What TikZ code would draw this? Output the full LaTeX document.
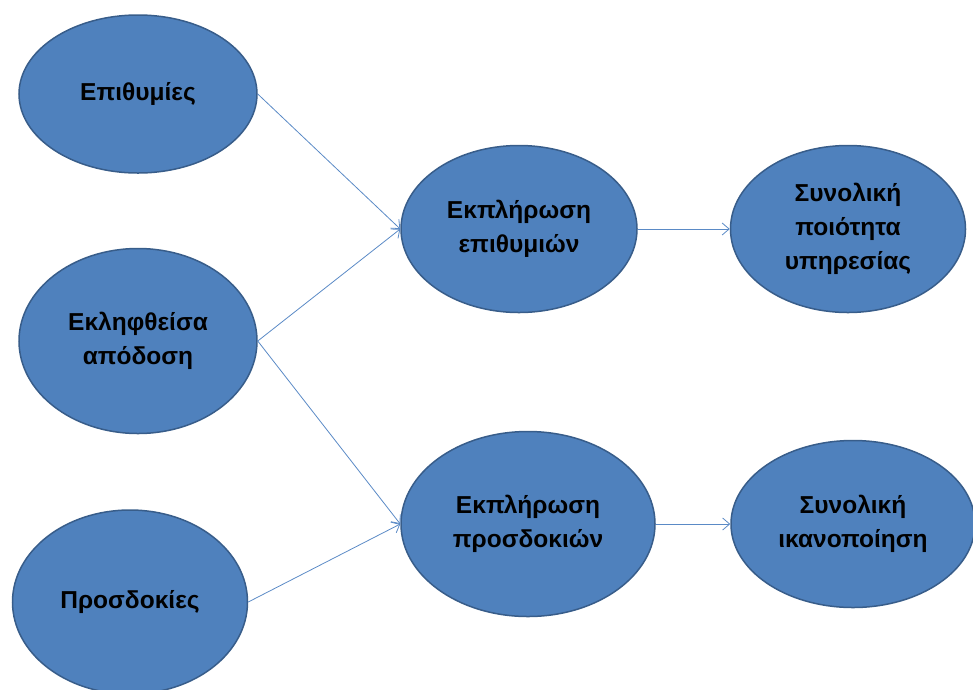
\documentclass[tikz,border=0pt]{standalone}
\usepackage{fontspec}
\setmainfont{Liberation Sans}
\usetikzlibrary{shapes.geometric,arrows.meta}
\definecolor{ovalfill}{HTML}{4F81BD}
\definecolor{ovalline}{HTML}{385D8A}
\definecolor{linkblue}{HTML}{5A8AC6}
\begin{document}
\begin{tikzpicture}[x=1pt, y=-1pt,
	oval/.style={ellipse, draw=ovalline, line width=1.5pt, fill=ovalfill, inner sep=0pt,
		align=center, font=\fontsize{24.5}{34}\selectfont\bfseries},
	link/.style={draw=linkblue, line width=0.8pt, -{Straight Barb[length=7pt, width=12pt]}}]
	\useasboundingbox (0, 0) rectangle (973, 689);

	% left column
	\node[oval, minimum width=238, minimum height=158] (wishes) at (138, 94) {Επιθυμίες};
	\node[oval, minimum width=238, minimum height=185] (perf) at (138, 341) {Εκληφθείσα\\απόδοση};
	\node[oval, minimum width=235, minimum height=184] (expect) at (130, 602) {Προσδοκίες};

	% middle column
	\node[oval, minimum width=236, minimum height=167] (fulwish) at (519, 229) {Εκπλήρωση\\επιθυμιών};
	\node[oval, minimum width=254, minimum height=185] (fulexp) at (528, 524) {Εκπλήρωση\\προσδοκιών};

	% right column
	\node[oval, minimum width=235, minimum height=167] (quality) at (848, 229) {Συνολική\\ποιότητα\\υπηρεσίας};
	\node[oval, minimum width=244, minimum height=167] (satisf) at (853, 524) {Συνολική\\ικανοποίηση};

	\draw[link] (wishes.east) -- (fulwish.west);
	\draw[link] (perf.east) -- (fulwish.west);
	\draw[link] (perf.east) -- (fulexp.west);
	\draw[link] (expect.east) -- (fulexp.west);
	\draw[link] (fulwish.east) -- (quality.west);
	\draw[link] (fulexp.east) -- (satisf.west);

\end{tikzpicture}
\end{document}
